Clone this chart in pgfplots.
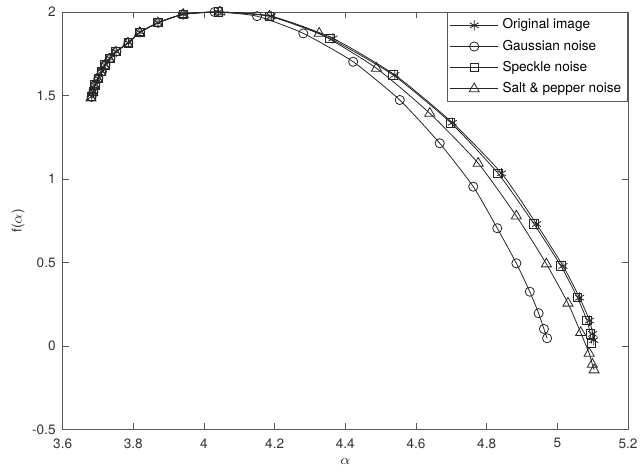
\documentclass[border=0pt]{standalone}
\usepackage{pgfplots}
\pgfplotsset{compat=1.18}
\usepackage{fontspec}
\setmainfont{TeX Gyre Heros}
\usetikzlibrary{calc}
\begin{document}
\begin{tikzpicture}
\begin{axis}[
  scale only axis,
  width=282.7pt, height=208.75pt,
  xmin=3.6, xmax=5.2, ymin=-0.5, ymax=2,
  xtick={3.6,3.8,...,5.21}, ytick={-0.5,0,0.5,1,1.5,2},
  tick align=inside, tick pos=both,
  major tick length=3pt,
  axis line style={black!65, line width=0.4pt},
  every tick/.style={black!65, line width=0.4pt},
  tick label style={font=\fontsize{6.8}{7}\selectfont, text=black!80},
  /pgf/number format/assume math mode=true,
  xticklabel style={yshift=-1pt},
  xlabel={$\alpha$}, ylabel={f($\alpha$)},
  label style={font=\fontsize{6.8}{8}\selectfont, text=black!80},
  xlabel style={yshift=2pt},
  ylabel style={yshift=-3pt},
  legend cell align=left,
  legend style={font=\fontsize{6.8}{8}\selectfont, draw=black!65, line width=0.4pt, inner sep=1.2pt, row sep=0pt, at={(1,1)}, anchor=north east, legend columns=1},
  legend image code/.code={\draw[mark repeat=2,mark phase=2] plot coordinates {(0cm,0cm) (0.42cm,0cm) (0.84cm,0cm)};},
  every axis plot/.append style={black!85, line width=0.4pt, mark options={solid, line width=0.4pt}},
]
\addplot+[black!85, mark=asterisk, mark size=2.6pt, smooth, tension=0.35] coordinates {
(3.682,1.493)(3.687,1.523)(3.691,1.563)(3.701,1.603)(3.710,1.643)(3.720,1.683)(3.734,1.723)(3.751,1.763)(3.786,1.816)(3.819,1.879)(3.870,1.936)(3.941,1.986)(4.040,2.0)(4.190,1.975)(4.365,1.842)(4.540,1.623)(4.703,1.337)(4.842,1.034)(4.941,0.730)(5.016,0.479)(5.063,0.289)(5.091,0.152)(5.100,0.072)(5.103,0.035)
};
\addlegendentry{Original image}
\addplot+[black!85, mark=o, mark size=2.3pt, smooth, tension=0.35] coordinates {
(3.682,1.493)(3.687,1.523)(3.692,1.563)(3.701,1.603)(3.711,1.643)(3.721,1.683)(3.735,1.723)(3.752,1.763)(3.786,1.816)(3.819,1.879)(3.870,1.936)(3.940,1.986)(4.030,2.0)(4.150,1.975)(4.281,1.872)(4.422,1.702)(4.554,1.473)(4.667,1.214)(4.762,0.954)(4.830,0.705)(4.884,0.495)(4.922,0.325)(4.947,0.196)(4.962,0.102)(4.971,0.046)
};
\addlegendentry{Gaussian noise}
\addplot+[black!85, mark=square, mark size=2.1pt, smooth, tension=0.35] coordinates {
(3.682,1.493)(3.687,1.523)(3.691,1.563)(3.701,1.603)(3.710,1.643)(3.720,1.683)(3.734,1.723)(3.751,1.763)(3.786,1.816)(3.819,1.879)(3.870,1.936)(3.941,1.986)(4.040,2.0)(4.185,1.975)(4.356,1.842)(4.535,1.623)(4.698,1.337)(4.832,1.034)(4.934,0.730)(5.010,0.479)(5.057,0.289)(5.084,0.152)(5.093,0.072)(5.097,0.016)
};
\addlegendentry{Speckle noise}
\addplot+[black!85, mark=triangle, mark size=2.9pt, smooth, tension=0.35] coordinates {
(3.680,1.485)(3.685,1.518)(3.690,1.558)(3.699,1.598)(3.708,1.638)(3.718,1.678)(3.732,1.718)(3.749,1.758)(3.784,1.812)(3.818,1.876)(3.869,1.934)(3.941,1.985)(4.045,2.0)(4.185,1.975)(4.326,1.872)(4.488,1.663)(4.639,1.393)(4.776,1.094)(4.884,0.778)(4.969,0.491)(5.030,0.256)(5.066,0.080)(5.090,-0.044)(5.099,-0.110)(5.104,-0.144)
};
\addlegendentry{Salt \& pepper noise}
\end{axis}
\pgfresetboundingbox
\path ($(current axis.south west)+(-31.35pt,-23.25pt)$) rectangle ($(current axis.north east)+(6pt,6pt)$);
\end{tikzpicture}
\end{document}
